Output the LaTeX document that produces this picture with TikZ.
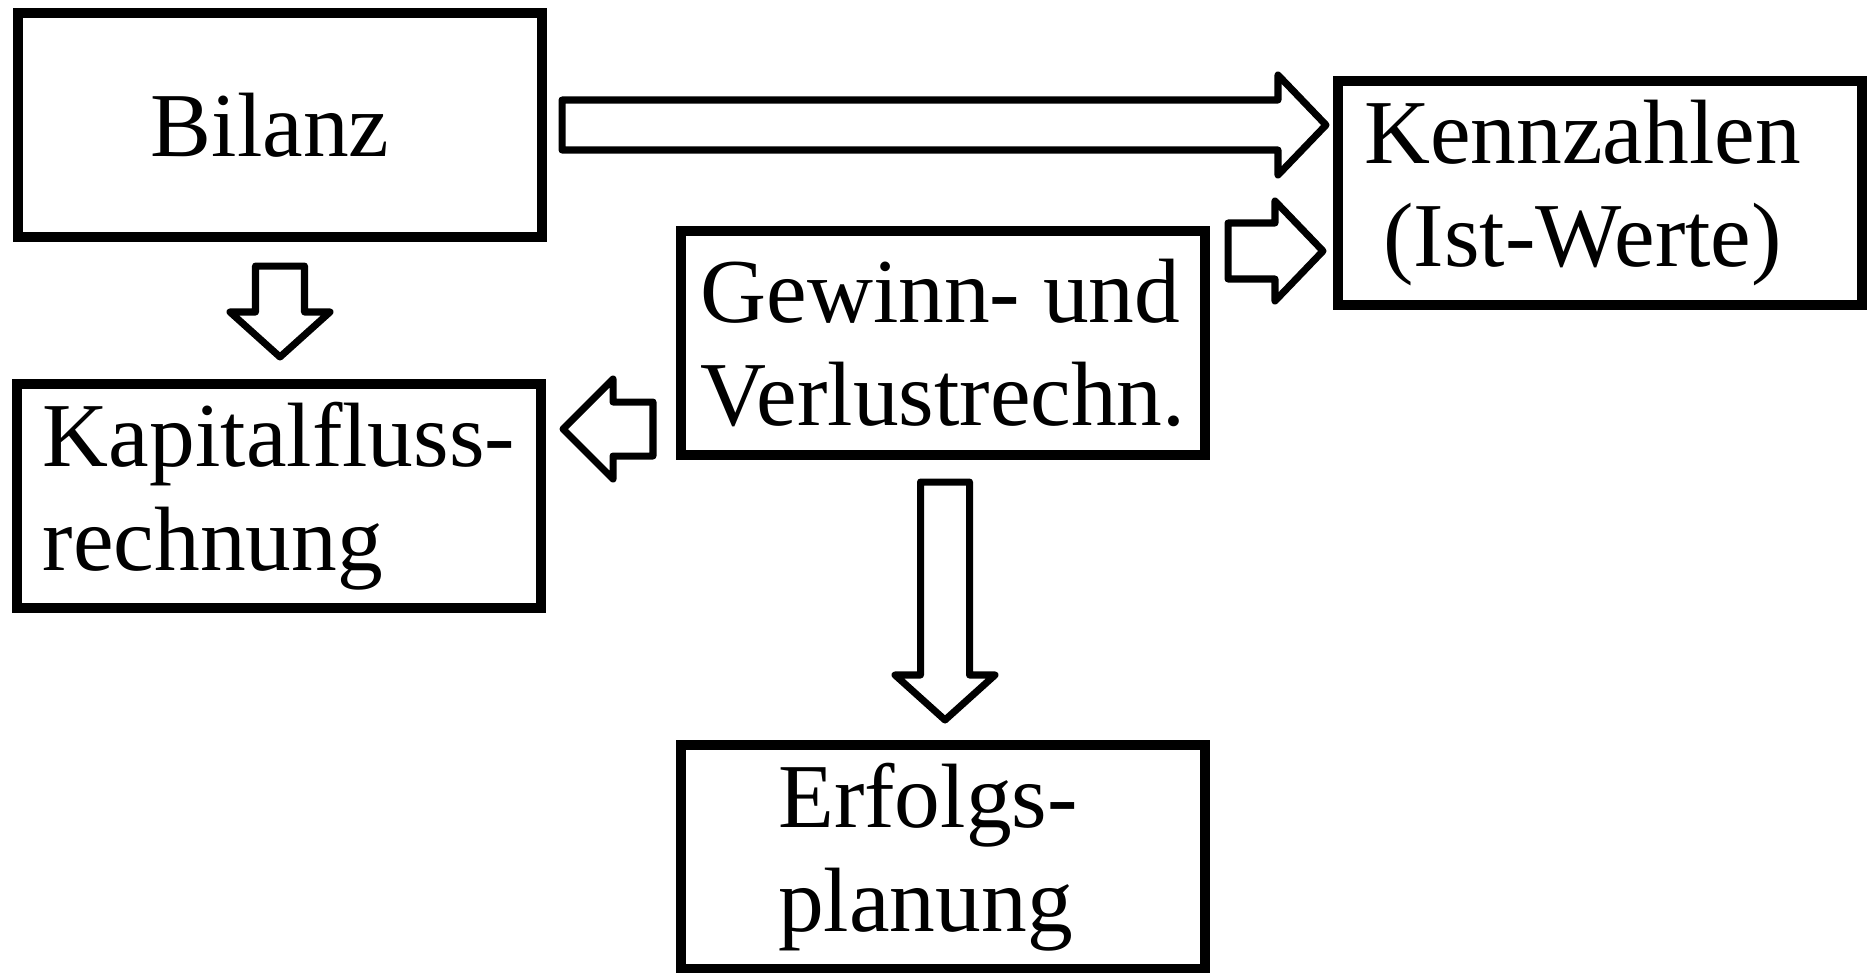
\documentclass[tikz,border=0pt]{standalone}
\usepackage{fontspec}
\setmainfont{Liberation Serif}
\usetikzlibrary{calc}
\tikzset{
  box/.style={draw, black, line width=2.85pt, minimum width=5.24cm, minimum height=2.24cm,
    inner sep=0pt, font=\fontsize{26}{29.5}\selectfont},
  fatright/.style={line width=2pt, line join=round, to path={let \p1=(\tikztostart), \p2=(\tikztotarget) in
    (\x1,\y1+#1) -- (\x2-0.48cm,\y1+#1) -- (\x2-0.48cm,\y1+0.5cm) -- (\x2,\y1)
    -- (\x2-0.48cm,\y1-0.5cm) -- (\x2-0.48cm,\y1-#1) -- (\x1,\y1-#1) -- cycle}},
  fatright/.default=0.25cm,
  fatleft/.style={line width=2pt, line join=round, to path={let \p1=(\tikztostart), \p2=(\tikztotarget) in
    (\x1,\y1+#1) -- (\x2+0.5cm,\y1+#1) -- (\x2+0.5cm,\y1+0.5cm) -- (\x2,\y1)
    -- (\x2+0.5cm,\y1-0.5cm) -- (\x2+0.5cm,\y1-#1) -- (\x1,\y1-#1) -- cycle}},
  fatleft/.default=0.25cm,
  fatdown/.style={line width=2pt, line join=round, to path={let \p1=(\tikztostart), \p2=(\tikztotarget) in
    (\x1-#1,\y1) -- (\x1-#1,\y2+0.45cm) -- (\x1-0.5cm,\y2+0.45cm) -- (\x1,\y2)
    -- (\x1+0.5cm,\y2+0.45cm) -- (\x1+#1,\y2+0.45cm) -- (\x1+#1,\y1) -- cycle}},
  fatdown/.default=0.245cm
}
\begin{document}
\begin{tikzpicture}
\useasboundingbox (0,0) rectangle (18.71,-9.72);

\node[box, align=center] (bil) at (2.80,-1.25) {\hspace*{-0.2cm}Bilanz};
\node[box, align=center] (ken) at (16.0,-1.93) {Kennzahlen\hspace*{0.35cm}\\(Ist-Werte)\hspace*{0.35cm}};
\node[box, align=left] (guv) at (9.43,-3.43) {Gewinn- und\\Verlustrechn.};
\node[box, align=left] (kap) at (2.79,-4.96) {Kapitalfluss-\\rechnung};
\node[box, align=left] (erf) at (9.43,-8.57) {Erfolgs-\hspace*{0.3cm}\\planung};

\draw[fatright] ($(bil.east)+(0.15,0)$) to ($(ken.west)+(-0.07,0)$);
\draw[fatright=0.28cm] ($(guv.north east)+(0.18,-0.25)$) to ($(ken.west)+(-0.1,0)$);
\draw[fatdown] ($(bil.south)+(0,-0.24)$) to ($(kap.north)+(0,0.22)$);
\draw[fatleft=0.27cm] ($(guv.south west)+(-0.23,0.31)$) to ($(kap.east)+(0.17,0)$);
\draw[fatdown] ($(guv.south)+(0.02,-0.22)$) to ($(erf.north)+(0,0.2)$);
\end{tikzpicture}
\end{document}
